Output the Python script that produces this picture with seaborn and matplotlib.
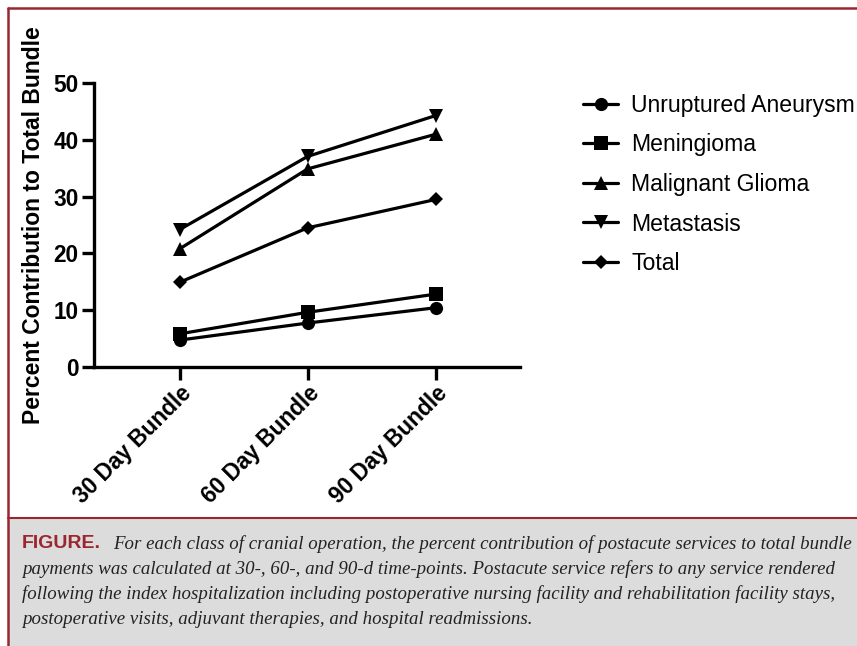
import matplotlib
matplotlib.use("Agg")
import matplotlib.pyplot as plt
import matplotlib.patches as mpatches
import seaborn as sns
import pandas as pd

# --- data ---
bundles = ["30 Day Bundle", "60 Day Bundle", "90 Day Bundle"]
series = ["Unruptured Aneurysm", "Meningioma", "Malignant Glioma", "Metastasis", "Total"]
aneurysm = [4.7, 7.7, 10.4]
meningioma = [5.8, 9.6, 12.8]
glioma = [20.8, 34.9, 41.0]
metastasis = [24.2, 37.1, 44.3]
total = [14.9, 24.5, 29.5]

values = [aneurysm, meningioma, glioma, metastasis, total]
rows = []
for name, vals in zip(series, values):
    for b, v in zip(bundles, vals):
        rows.append({"bundle": b, "series": name, "pct": v})
df = pd.DataFrame(rows)

caption_lines = [
    "For each class of cranial operation, the percent contribution of postacute services to total bundle",
    "payments was calculated at 30-, 60-, and 90-d time-points. Postacute service refers to any service rendered",
    "following the index hospitalization including postoperative nursing facility and rehabilitation facility stays,",
    "postoperative visits, adjuvant therapies, and hospital readmissions.",
]

RED = "#9a2730"

sns.set_style("white")
plt.rcParams["font.family"] = ["Liberation Sans", "DejaVu Sans"]
plt.rcParams["text.color"] = "black"
plt.rcParams["axes.labelcolor"] = "black"
plt.rcParams["xtick.color"] = "black"
plt.rcParams["ytick.color"] = "black"

fig = plt.figure(figsize=(8.57, 6.46), dpi=100)
W, H = 857, 646
ax = fig.add_axes([94 / W, 1 - 366.7 / H, (520 - 94) / W, (366.7 - 83.3) / H])

markers = {"Unruptured Aneurysm": "o", "Meningioma": "s", "Malignant Glioma": "^",
           "Metastasis": "v", "Total": "D"}
sns.lineplot(data=df, x="bundle", y="pct", hue="series", style="series",
             hue_order=series, style_order=series,
             palette=["black"] * 5, markers=markers, dashes=False,
             linewidth=2.3, markersize=9.5, markeredgewidth=0, ax=ax)
for line in ax.lines:
    if line.get_marker() == "D":
        line.set_markersize(7.5)

ax.set_xlim(-0.67, 2.66)
ax.set_ylim(0, 50)
ax.set_yticks([0, 10, 20, 30, 40, 50])
ax.set_xlabel("")
ax.set_ylabel("Percent Contribution to Total Bundle", fontsize=16.5, fontweight="bold", labelpad=6)
for s in ["top", "right"]:
    ax.spines[s].set_visible(False)
for s in ["left", "bottom"]:
    ax.spines[s].set_linewidth(2.4)
    ax.spines[s].set_color("black")
ax.tick_params(axis="both", which="major", length=9, width=2.4, color="black",
               labelsize=16.3, direction="out", bottom=True, left=True, pad=2)
for lbl in ax.get_yticklabels():
    lbl.set_fontweight("bold")
plt.setp(ax.get_xticklabels(), rotation=45, ha="right", rotation_mode="anchor", fontweight="bold")

handles, labels = ax.get_legend_handles_labels()
leg = ax.legend(handles, labels, loc="upper left", bbox_to_anchor=(562 / W, 1 - 73 / H),
                bbox_transform=fig.transFigure, frameon=False, fontsize=16.6,
                handlelength=1.55, labelspacing=0.72, handletextpad=0.55)

# --- figure frame and caption ---
fig.add_artist(plt.Line2D([8 / W, 8 / W], [0, 1 - 8 / H], color=RED, lw=1.8, transform=fig.transFigure))
fig.add_artist(plt.Line2D([8 / W, 1], [1 - 8 / H, 1 - 8 / H], color=RED, lw=1.8, transform=fig.transFigure))
fig.add_artist(mpatches.Rectangle((9 / W, 0), 1, 1 - 518 / H, transform=fig.transFigure,
                                  facecolor="#dcdcdc", edgecolor="none", zorder=0))
fig.add_artist(plt.Line2D([8 / W, 1], [1 - 518 / H, 1 - 518 / H], color=RED, lw=1.5, transform=fig.transFigure))

fig.text(22 / W, 1 - 544 / H, "FIGURE.", color=RED, fontsize=14, fontweight="bold",
         va="center", ha="left", family=["Liberation Sans Narrow", "Liberation Sans"])
ys = [544, 569, 594, 619]
xs = [113, 22, 22, 22]
for x, y, line in zip(xs, ys, caption_lines):
    fig.text(x / W, 1 - y / H, line, fontsize=13.6, style="italic", va="center", ha="left",
             family=["Liberation Serif", "DejaVu Serif"], color="#222222")

fig.savefig("out.png", dpi=100)
